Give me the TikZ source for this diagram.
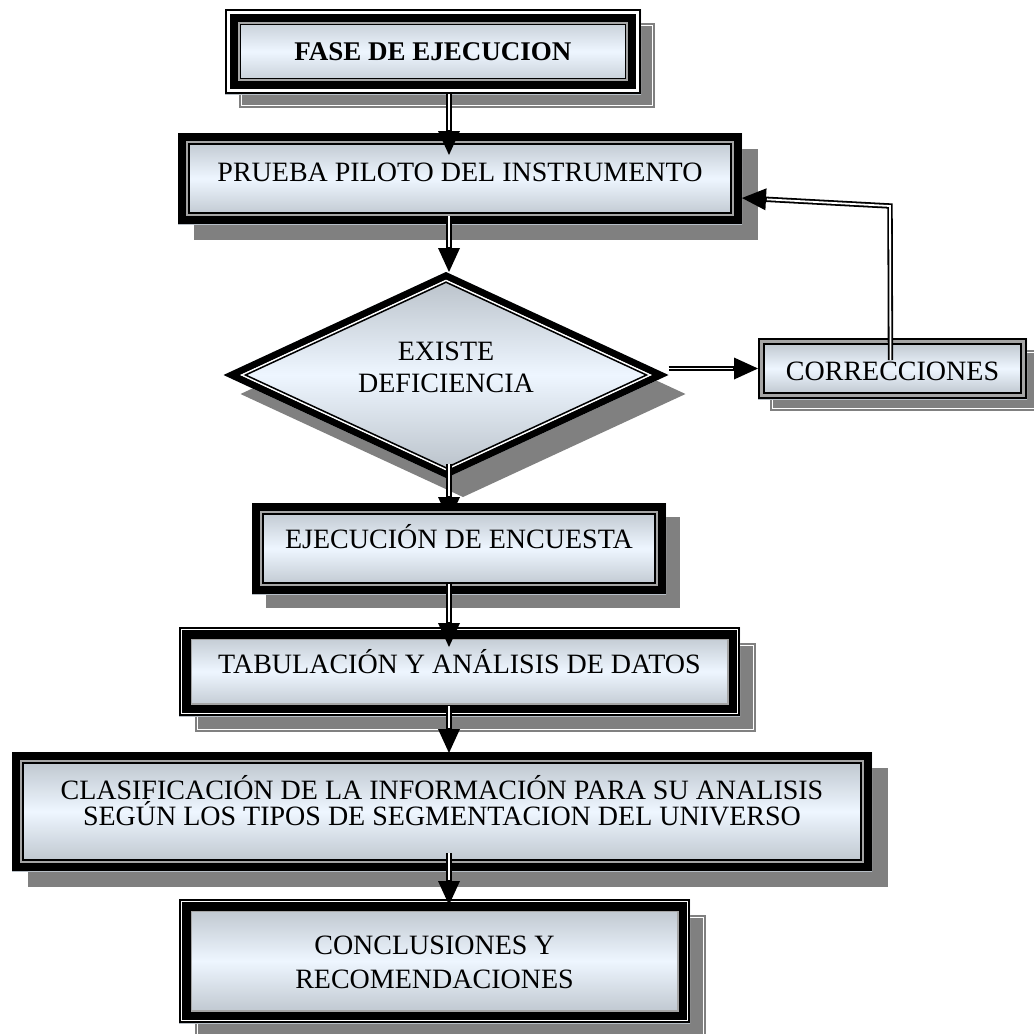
\documentclass[tikz,border=0pt]{standalone}
\usepackage{fontspec}
\setmainfont{Liberation Serif}
\usetikzlibrary{shapes.geometric,arrows.meta,calc}
\pgfdeclarelayer{back}
\pgfdeclarelayer{front}
\pgfsetlayers{back,main,front}

\definecolor{panetop}{RGB}{182,190,198}
\definecolor{panemid}{RGB}{238,246,255}
\definecolor{shadegray}{RGB}{128,128,128}
\definecolor{rimgray}{RGB}{165,165,165}

% rectangle drawn inside a node, #1 = inset of the line centre, #2 = width, #3 = colour
\newcommand\insetrect[3]{\draw[#3, line width=#2]
  ([shift={(#1,#1)}]path picture bounding box.south west) rectangle
  ([shift={(-#1,-#1)}]path picture bounding box.north east);}
% plain drop shadow behind a rectangular node
\newcommand\dropshadow[2]{\fill[shadegray]
  ([shift={(#2,-#2)}]#1.south west) rectangle ([shift={(#2,-#2)}]#1.north east);}
% drop shadow with a thin white rim
\newcommand\rimshadow[2]{\dropshadow{#1}{#2}\draw[white, line width=1.3pt]
  ([shift={(#2+2.4pt,-#2+2.4pt)}]#1.south west) rectangle
  ([shift={(#2-2.4pt,-#2-2.4pt)}]#1.north east);}

\tikzset{
  pane/.style={rectangle, inner sep=0pt, outer sep=0pt, align=center,
    font=\fontsize{28}{32}\selectfont,
    top color=panetop, bottom color=panetop, middle color=panemid},
  heavybox/.style={pane, path picture={
    \insetrect{4.15pt}{8.3pt}{black}
    \insetrect{9.15pt}{1.7pt}{rimgray}
    \insetrect{10.85pt}{1.7pt}{black}}},
  ringbox/.style={pane, path picture={
    \insetrect{0.85pt}{1.7pt}{black}
    \insetrect{2.5pt}{1.6pt}{white}
    \insetrect{7.4pt}{8.2pt}{black}
    \insetrect{12.15pt}{1.3pt}{rimgray}}},
  headbox/.style={pane, path picture={
    \insetrect{0.85pt}{1.7pt}{black}
    \insetrect{3.3pt}{3.2pt}{white}
    \insetrect{9.05pt}{8.3pt}{black}
    \insetrect{13.9pt}{1.4pt}{rimgray}
    \insetrect{15.3pt}{1.4pt}{black}}},
  twinbox/.style={pane, path picture={
    \insetrect{0.85pt}{1.7pt}{black}
    \insetrect{3.4pt}{3.4pt}{rimgray}
    \insetrect{5.95pt}{1.7pt}{black}}},
  decision/.style={pane, shape=diamond, shape aspect=2.16, path picture={
    \draw[line width=14pt]
      (path picture bounding box.west) -- (path picture bounding box.north) --
      (path picture bounding box.east) -- (path picture bounding box.south) -- cycle;
    \draw[white, line width=1.5pt]
      ([xshift=18.4pt]path picture bounding box.west) -- ([yshift=-8.5pt]path picture bounding box.north) --
      ([xshift=-18.4pt]path picture bounding box.east) -- ([yshift=8.5pt]path picture bounding box.south) -- cycle;
    \draw[black, line width=1.5pt]
      ([xshift=22pt]path picture bounding box.west) -- ([yshift=-10.2pt]path picture bounding box.north) --
      ([xshift=-22pt]path picture bounding box.east) -- ([yshift=10.2pt]path picture bounding box.south) -- cycle;}},
  conn/.style={draw=black, line width=5.4pt, line join=miter,
    -{Triangle[length=24pt,width=22pt,line width=0pt]},
    postaction={draw=white, line width=1.8pt, -, shorten >=25pt}}
}

\begin{document}
\begin{tikzpicture}[x=1pt,y=-1pt]
\useasboundingbox (0,0) rectangle (1034,1034);
\coordinate (spine) at (449,0);
\coordinate (fbk) at (890,206);

% process boxes
\node[headbox, minimum width=416pt, minimum height=85pt, text height=18pt, text depth=0pt,
  font=\bfseries\fontsize{27}{30}\selectfont] (f1) at (433,51.5) {FASE DE EJECUCION};
\node[heavybox, minimum width=564pt, minimum height=91pt, text height=18.5pt, text depth=13pt]
  (p2) at (460,178.5) {PRUEBA PILOTO DEL INSTRUMENTO};
\node[decision, minimum width=445pt, minimum height=206pt, text height=34.5pt, text depth=0pt,
  font=\fontsize{28}{32}\selectfont] (dia) at (446,375) {EXISTE\\DEFICIENCIA};
\node[twinbox, minimum width=269pt, minimum height=61pt, text height=23.5pt, text depth=0pt]
  (corr) at (892.5,368.5) {CORRECCIONES};
\begin{pgfonlayer}{front}
\node[heavybox, minimum width=414pt, minimum height=91pt, text height=18.5pt, text depth=18pt]
  (ej) at (459,548.5) {EJECUCIÓN DE ENCUESTA};
\end{pgfonlayer}
\node[ringbox, minimum width=561pt, minimum height=89pt, text height=18.5pt, text depth=15pt]
  (tab) at (459.5,671.5) {TABULACIÓN Y ANÁLISIS DE DATOS};
\node[heavybox, minimum width=860pt, minimum height=119pt, text height=28.5pt, text depth=0pt,
  font=\fontsize{28}{26}\selectfont] (cls) at (442,811.5)
  {CLASIFICACIÓN DE LA INFORMACIÓN PARA SU ANALISIS\\SEGÚN LOS TIPOS DE SEGMENTACION DEL UNIVERSO};
\node[ringbox, minimum width=511pt, minimum height=124pt, text height=54.5pt, text depth=0pt,
  font=\fontsize{28}{34}\selectfont] (conc) at (434.5,961) {CONCLUSIONES Y\\RECOMENDACIONES};

% connectors
\draw[conn] (f1.south -| spine) -- ($(p2.north -| spine)+(0,22)$);
\draw[conn] ($(p2.south -| spine)+(0,-8)$) -- (dia.north -| spine);
\draw[conn] ($(dia.south -| spine)+(0,-14)$) -- ($(ej.north -| spine)+(0,18)$);
\draw[conn] (dia.east |- corr.west) -- (corr.west);
\draw[conn] ($(corr.north)+(-2,22)$) -- (fbk) -- ($(p2.east)+(0,19.5)$);
\draw[conn] ($(tab.south -| spine)+(0,-10)$) -- ($(cls.north -| spine)+(0,1)$);
\draw[conn] ($(cls.south -| spine)+(0,-18)$) -- ($(conc.north -| spine)+(0,6)$);
\begin{pgfonlayer}{front}
\draw[conn] ($(ej.south -| spine)+(0,-10)$) -- ($(tab.north -| spine)+(0,20)$);
\end{pgfonlayer}

% shadows
\begin{pgfonlayer}{back}
\fill[white] (0,0) rectangle (1034,1034);
\rimshadow{f1}{14pt}
\dropshadow{p2}{16pt}
\fill[shadegray] ([shift={(17pt,-19pt)}]dia.west) -- ([shift={(17pt,-19pt)}]dia.north) --
  ([shift={(17pt,-19pt)}]dia.east) -- ([shift={(17pt,-19pt)}]dia.south) -- cycle;
\rimshadow{corr}{12pt}
\dropshadow{ej}{14pt}
\rimshadow{tab}{16pt}
\dropshadow{cls}{16pt}
\rimshadow{conc}{16pt}
\end{pgfonlayer}
\end{tikzpicture}
\end{document}
